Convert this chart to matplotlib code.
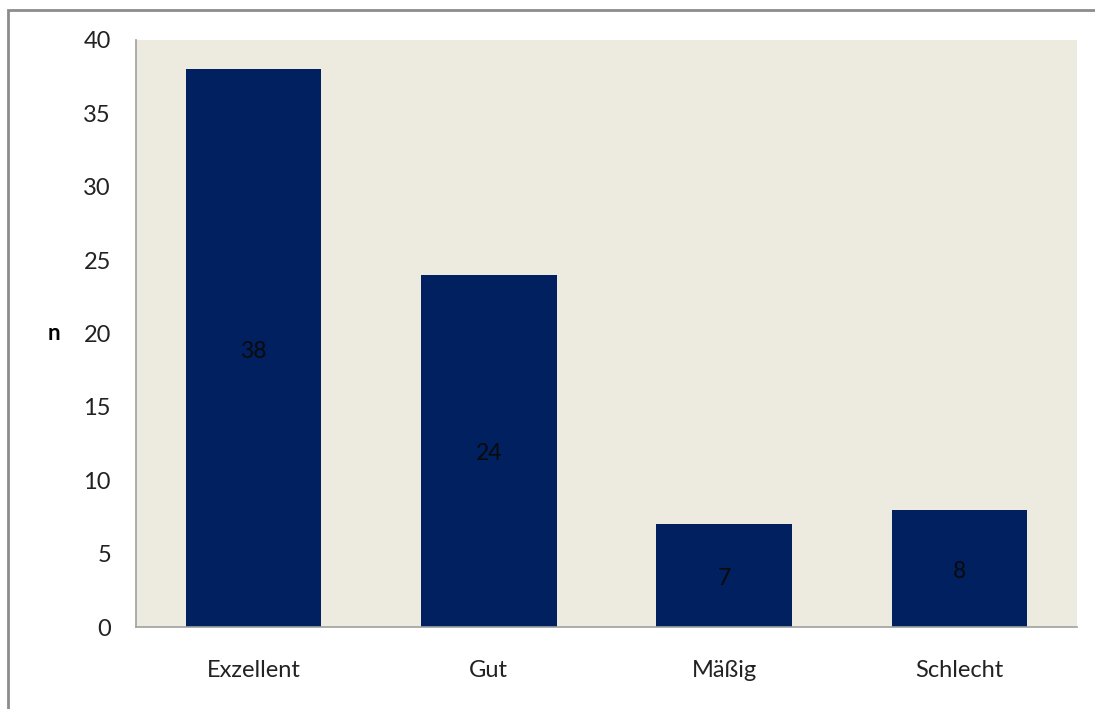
import matplotlib.pyplot as plt
from matplotlib.patches import Rectangle

# Daten
kategorien = ['Exzellent', 'Gut', 'Mäßig', 'Schlecht']
anzahl = [38, 24, 7, 8]
y_ticks = [0, 5, 10, 15, 20, 25, 30, 35, 40]

plt.rcParams['font.family'] = ['Lato', 'DejaVu Sans']

fig = plt.figure(figsize=(10.95, 7.09), dpi=100)
ax = fig.add_axes([136 / 1095, 1 - 627 / 709, 941 / 1095, 587 / 709])

# Rahmen um das Diagramm (rechts und unten abgeschnitten)
rahmen = Rectangle((8 / 1095, -0.05), 1.1, 1 - 10 / 709 + 0.05, transform=fig.transFigure,
                   fill=False, edgecolor='#8c8c8c', linewidth=2, clip_on=False)
fig.patches.append(rahmen)

x = range(len(kategorien))
balken = ax.bar(x, anzahl, width=0.575, color='#002060', zorder=2)

# Werte mittig in den Balken
for xi, wert in zip(x, anzahl):
    ax.text(xi, wert / 2 - 0.2, str(wert), ha='center', va='center', fontsize=16.5, color='#0a0a0a')

ax.set_facecolor('#edeae0')
ax.set_xlim(-0.5, len(kategorien) - 0.5)
ax.set_ylim(0, 40)
ax.set_yticks(y_ticks)
ax.set_xticks(list(x))
ax.set_xticklabels(kategorien)
ax.tick_params(axis='both', length=0, labelsize=17, colors='#222222')
ax.tick_params(axis='y', pad=18)
ax.tick_params(axis='x', pad=24)

for s in ['top', 'right']:
    ax.spines[s].set_visible(False)
for s in ['left', 'bottom']:
    ax.spines[s].set_color('#a0a0a0')
    ax.spines[s].set_linewidth(1.2)

ax.set_ylabel('n', rotation=0, fontsize=16, fontweight='bold', labelpad=21, va='center')

fig.savefig('out.png', dpi=100)
